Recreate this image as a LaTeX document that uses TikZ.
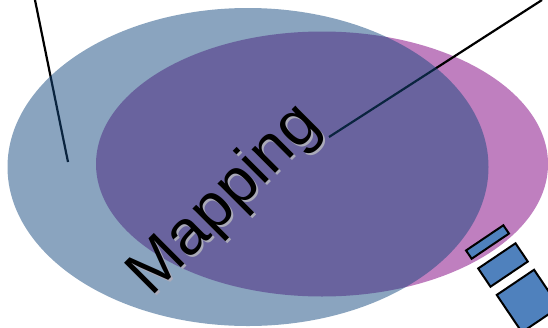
\documentclass[tikz,border=0pt]{standalone}
\usepackage{fontspec}
\setmainfont{Liberation Sans}
\usepackage{tikz}
\usetikzlibrary{
  shapes.geometric,
  positioning
}
\definecolor{SetBlue}{RGB}{21, 73, 127}
\definecolor{SetPink}{RGB}{191, 127, 191}
\definecolor{HandleBlue}{RGB}{79, 129, 189}
\definecolor{ShadowGray}{RGB}{170, 170, 185}
\tikzset{
    setshape/.style={ellipse, inner sep=0pt, draw=none},
    leader/.style={line width=2.2pt, black},
    handlebox/.style={rectangle, fill=HandleBlue, draw=black, line width=2pt, rotate=34, inner sep=0pt, minimum width=45pt}
}

\begin{document}
\begin{tikzpicture}[x=1pt, y=-1pt]
    \useasboundingbox (0,0) rectangle (548,327);
    % pink set at the back
    \node[setshape, fill=SetPink, minimum width=452pt, minimum height=265pt] (setB) at (322,164) {};
    % leader lines
    \coordinate (calloutA) at (35,0);
    \coordinate (tipA) at (68,162);
    \coordinate (calloutB) at (542,0);
    \coordinate (tipB) at (329,137);
    \draw[leader] (calloutA) -- (tipA);
    \draw[leader] (calloutB) -- (tipB);
    % blue set, see-through
    \node[setshape, fill=SetBlue, fill opacity=0.5, minimum width=481pt, minimum height=318pt] (setA) at (248,167) {};
    % label with its shadow
    \node[anchor=base, rotate=45, text=ShadowGray, font=\fontsize{63}{70}\selectfont] (labelShadow) at (239,214) {Mapping};
    \node[anchor=base, rotate=45, text=black, font=\fontsize{63}{70}\selectfont] (label) at (237,212) {Mapping};
    % handle pieces
    \node[handlebox, minimum height=10pt] (handleA) at (487.5,242) {};
    \node[handlebox, minimum height=22pt] (handleB) at (503,265) {};
    \node[handlebox, minimum height=45pt] (handleC) at (528,301) {};
\end{tikzpicture}
\end{document}
